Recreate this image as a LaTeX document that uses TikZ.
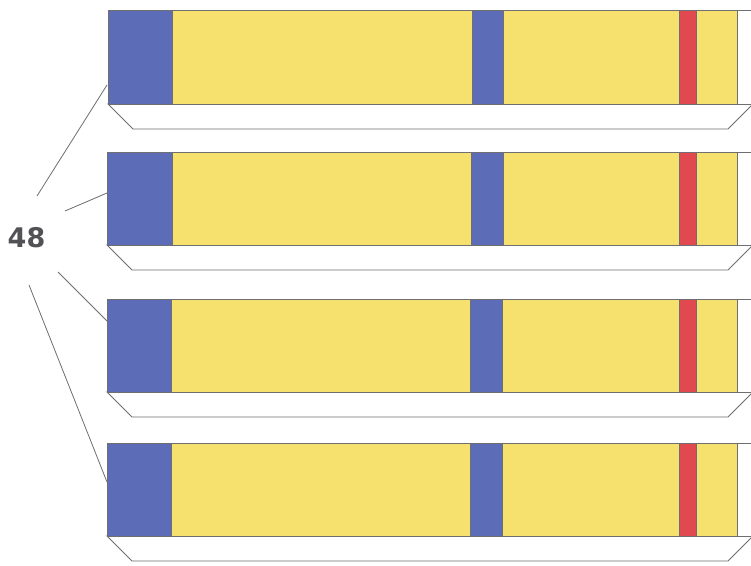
\documentclass[tikz,border=0pt]{standalone}
\usepackage{fontspec}
\setmainfont{DejaVu Sans}
\definecolor{cblue}{RGB}{92,108,182}
\definecolor{cyellow}{RGB}{246,224,110}
\definecolor{cred}{RGB}{226,72,80}
\definecolor{cline}{RGB}{110,110,115}
\definecolor{ctext}{RGB}{82,82,86}
\tikzset{
  part/.style={draw=cline, line width=0.9pt},
  lead/.style={draw=cline, line width=0.8pt},
}
\begin{document}
\begin{tikzpicture}[x=1pt,y=-1pt]
\useasboundingbox (0,0) rectangle (751,565);
\fill[white] (0,0) rectangle (751,565);
\clip (0,0) rectangle (751,565);
% strips: index/top/bottom/left/blue1 end/blue2 start/blue2 end
\foreach \i/\t/\b/\l/\ba/\bb/\bc in {1/10/104/108/172/472/503, 2/152/245/107/172/471/503, 3/299/392/107/171/470/502, 4/443/536/107/171/470/502}{
  % tray
  \pgfmathsetmacro{\tb}{\b+25}
  \draw[part, fill=white] (\l,\b) -- (\l+25,\tb) -- (728,\tb) -- (753,\b) -- cycle;
  % white tail
  \draw[part, fill=white] (737,\t) rectangle (760,\b);
  % colour bands
  \draw[part, fill=cblue] (\l,\t) rectangle (\ba,\b);
  \draw[part, fill=cyellow] (\ba,\t) rectangle (\bb,\b);
  \draw[part, fill=cblue] (\bb,\t) rectangle (\bc,\b);
  \draw[part, fill=cyellow] (\bc,\t) rectangle (679,\b);
  \draw[part, fill=cred] (679,\t) rectangle (696,\b);
  \draw[part, fill=cyellow] (696,\t) rectangle (737,\b);
}
\coordinate (s1) at (107,85);
\coordinate (s2) at (107,193);
\coordinate (s3) at (107,321);
\coordinate (s4) at (107,482);
\node[text=ctext, font=\bfseries\fontsize{27}{30}\selectfont, inner sep=0pt, anchor=base] (lbl) at (26.5,247) {48};
\coordinate (e1) at (37,196);
\coordinate (e2) at (65,211);
\coordinate (e3) at (58,272);
\coordinate (e4) at (29,285);
\draw[lead] (e1) -- (s1);
\draw[lead] (e2) -- (s2);
\draw[lead] (e3) -- (s3);
\draw[lead] (e4) -- (s4);
\end{tikzpicture}
\end{document}
